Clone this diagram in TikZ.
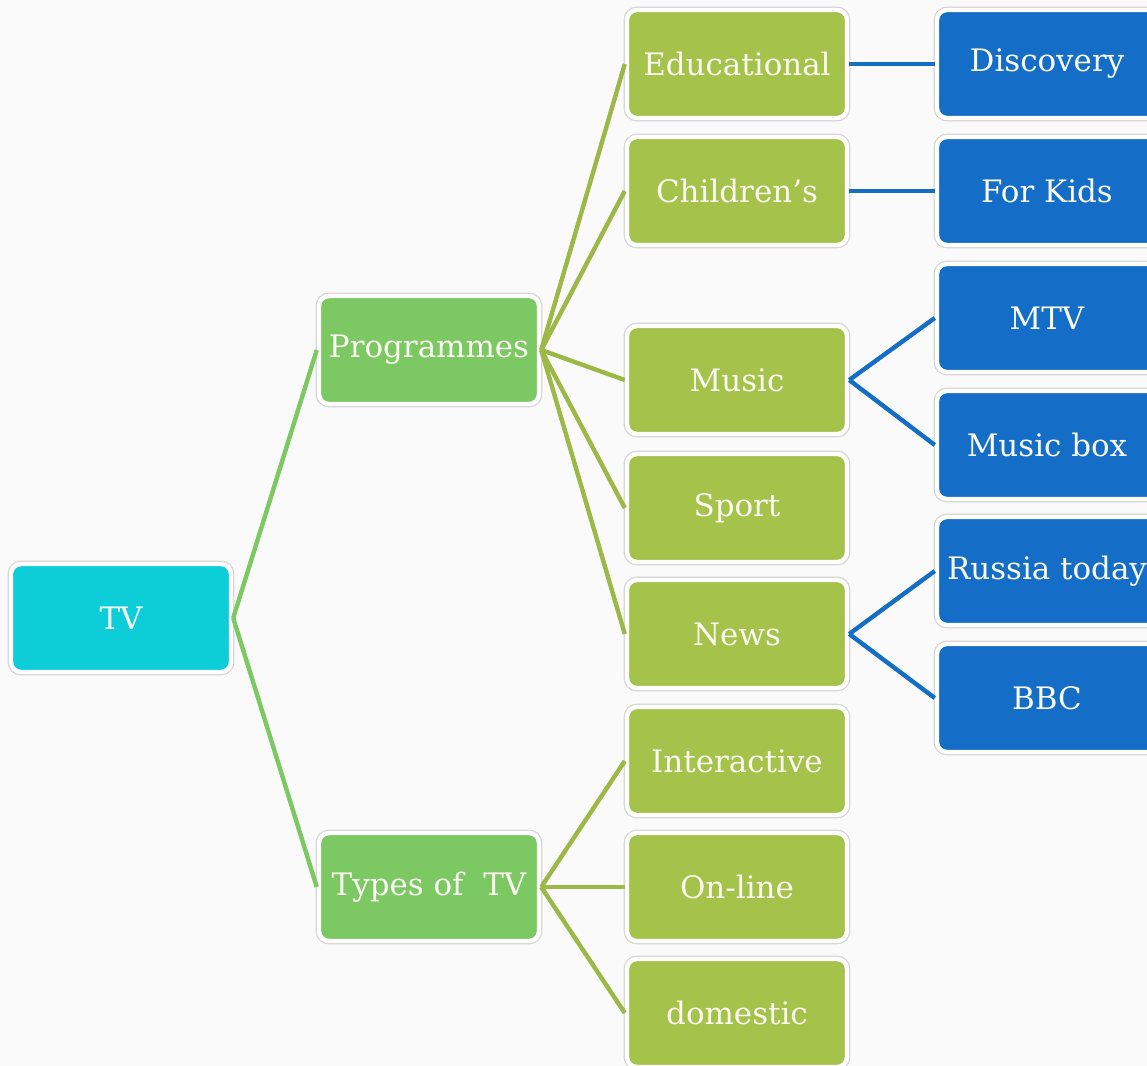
\documentclass[tikz,border=0pt]{standalone}
\usepackage{fontspec}
\setmainfont{DejaVu Serif}
\usepackage{xcolor}
\definecolor{tvCyan}{HTML}{0DCED8}
\definecolor{mainGreen}{HTML}{7CC862}
\definecolor{subOlive}{HTML}{A5C24A}
\definecolor{channelBlue}{HTML}{146DC6}
\definecolor{rimGray}{HTML}{D4D4D4}
\definecolor{pageBg}{HTML}{FAFAFA}
\definecolor{labelWhite}{HTML}{FAFAF2}
\usetikzlibrary{arrows.meta}
\tikzset{%
  baseBox/.style={%
    rectangle,
    rounded corners=0.25cm,
    preaction={draw=rimGray, line width=0.17cm},
    draw=white,
    line width=0.11cm,
    minimum width=5.5cm,
    minimum height=2.7cm,
    inner sep=0pt,
    text=labelWhite,
    font=\fontsize{22}{26}\selectfont,
    align=center
  },
  rootBox/.style={baseBox, fill=tvCyan},
  mainBox/.style={baseBox, fill=mainGreen},
  subBox/.style={baseBox, fill=subOlive},
  channelBox/.style={baseBox, fill=channelBlue},
  mainLine/.style={line width=0.11cm, color=mainGreen},
  subLine/.style={line width=0.11cm, color=subOlive!95!black},
  channelLine/.style={line width=0.11cm, color=channelBlue}
}

\begin{document}
\begin{tikzpicture}[x=0.025cm, y=-0.025cm]
            \useasboundingbox[fill=pageBg] (0,0) rectangle (1147,1066);

            \node[rootBox] (tv) at (121,618) {TV};
            \node[mainBox] (programmes) at (429,350) {Programmes};
            \node[mainBox] (types) at (429,887) {Types of~ TV};

            \node[subBox] (educational) at (737,64) {Educational};
            \node[subBox] (childrens) at (737,191) {Children’s};
            \node[subBox] (music) at (737,380) {Music};
            \node[subBox] (sport) at (737,508) {Sport};
            \node[subBox] (news) at (737,634) {News};
            \node[subBox] (interactive) at (737,761) {Interactive};
            \node[subBox] (online) at (737,887) {On-line};
            \node[subBox] (domestic) at (737,1013) {domestic};

            \node[channelBox] (discovery) at (1047,64) {Discovery};
            \node[channelBox] (forkids) at (1047,191) {For Kids};
            \node[channelBox] (mtv) at (1047,318) {MTV};
            \node[channelBox] (musicbox) at (1047,445) {Music box};
            \node[channelBox] (russia) at (1047,571) {Russia today};
            \node[channelBox] (bbc) at (1047,698) {BBC};

            \draw[mainLine] (tv.east) -- (programmes.west);
            \draw[mainLine] (tv.east) -- (types.west);

            \draw[subLine] (programmes.east) -- (educational.west);
            \draw[subLine] (programmes.east) -- (childrens.west);
            \draw[subLine] (programmes.east) -- (music.west);
            \draw[subLine] (programmes.east) -- (sport.west);
            \draw[subLine] (programmes.east) -- (news.west);
            \draw[subLine] (types.east) -- (interactive.west);
            \draw[subLine] (types.east) -- (online.west);
            \draw[subLine] (types.east) -- (domestic.west);

            \draw[channelLine] (educational.east) -- (discovery.west);
            \draw[channelLine] (childrens.east) -- (forkids.west);
            \draw[channelLine] (music.east) -- (mtv.west);
            \draw[channelLine] (music.east) -- (musicbox.west);
            \draw[channelLine] (news.east) -- (russia.west);
            \draw[channelLine] (news.east) -- (bbc.west);
        \end{tikzpicture}
\end{document}
